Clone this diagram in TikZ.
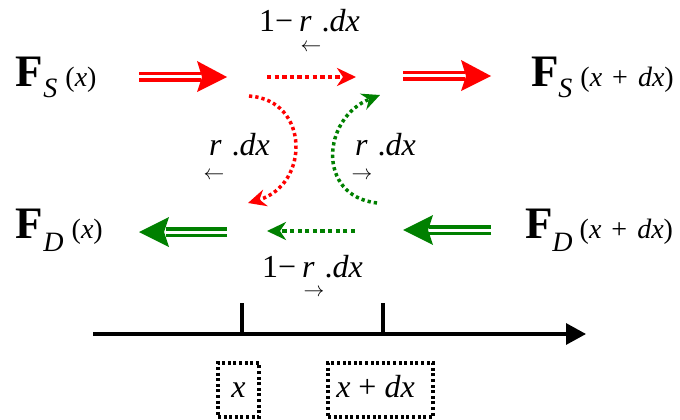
\documentclass[tikz,border=0pt]{standalone}
\usepackage{fontspec}
\setmainfont{Liberation Serif}
\usetikzlibrary{arrows.meta}
\definecolor{fred}{RGB}{255,0,0}
\definecolor{fgreen}{RGB}{0,128,0}
\newcommand{\BigF}{{\fontsize{45}{45}\selectfont\bfseries F}}
\newcommand{\SubT}[2]{\raisebox{-#1}{\fontsize{28}{28}\selectfont\itshape #2}}
\newcommand{\ArgT}[1]{{\fontsize{28}{28}\selectfont #1}}
\newcommand{\LabT}{\fontsize{32}{32}\selectfont}
\newcommand{\SmA}{\fontsize{21}{21}\selectfont}
\begin{document}
\begin{tikzpicture}[x=1pt,y=-1pt,
  lbl/.style={inner sep=0pt, outer sep=0pt, anchor=base west},
  sma/.style={inner sep=0pt, outer sep=0pt, anchor=center, font=\SmA},
  dshaft/.style={draw=#1, double=white, double distance=3pt, line width=3.5pt},
  dotarr/.style={draw=#1, line width=3.8pt, dash pattern=on 4.3pt off 3.3pt,
     -{Stealth[length=19pt,width=18pt,inset=6pt]}},
  curvarr/.style={draw=#1, line width=3.5pt, dash pattern=on 3.3pt off 3pt,
     -{Stealth[length=18pt,width=17pt,inset=6pt]}},
  dbox/.style={draw=black, line width=3.4pt, dash pattern=on 3pt off 2.6pt,
     inner sep=0pt, text height=15pt, text depth=0pt, font=\LabT},
  axisline/.style={draw=black, line width=3.2pt}
]
\useasboundingbox (0,0) rectangle (680,420);

% flux labels
\node[lbl] (FSx) at (16,87) {\BigF\SubT{10pt}{S}\hspace{8pt}\ArgT{(\textit{x})}};
\node[lbl] (FSxd) at (531,87) {\BigF\SubT{10pt}{S}\hspace{8pt}\ArgT{(\textit{x}\hspace{10pt}+\hspace{10pt}\textit{dx})}};
\node[lbl] (FDx) at (16,238) {\BigF\SubT{13pt}{D}\hspace{8pt}\ArgT{(\textit{x})}};
\node[lbl] (FDxd) at (525,238) {\BigF\SubT{13pt}{D}\hspace{7pt}\ArgT{(\textit{x}\hspace{10pt}+\hspace{10pt}\textit{dx})}};

% red double arrows
\coordinate (r1a) at (139,77); \coordinate (r1b) at (201,77); \coordinate (r1t) at (227,77);
\draw[dshaft=fred] (r1a) -- (r1b);
\fill[fred] (r1t) -- ++(-30,-16) -- ++(5,16) -- ++(-5,15) -- cycle;
\coordinate (r2a) at (403,76); \coordinate (r2b) at (465,76); \coordinate (r2t) at (491,76);
\draw[dshaft=fred] (r2a) -- (r2b);
\fill[fred] (r2t) -- ++(-30,-16) -- ++(5,16) -- ++(-5,15) -- cycle;

% green double arrows
\coordinate (g1a) at (227,232); \coordinate (g1b) at (166,232); \coordinate (g1t) at (139,232);
\draw[dshaft=fgreen] (g1a) -- (g1b);
\fill[fgreen] (g1t) -- ++(30,-15) -- ++(-5,15) -- ++(5,15) -- cycle;
\coordinate (g2a) at (491,230); \coordinate (g2b) at (429,230); \coordinate (g2t) at (403,230);
\draw[dshaft=fgreen] (g2a) -- (g2b);
\fill[fgreen] (g2t) -- ++(30,-15) -- ++(-5,15) -- ++(5,15) -- cycle;

% dotted arrows
\coordinate (rd1) at (267,77); \coordinate (rd2) at (356,77);
\draw[dotarr=fred] (rd1) -- (rd2);
\coordinate (gd1) at (355,231); \coordinate (gd2) at (267,231);
\draw[dotarr=fgreen] (gd1) -- (gd2);
\coordinate (rc1) at (249,96); \coordinate (rc2) at (248,203);
\draw[curvarr=fred] (rc1) .. controls (310,100) and (310,185) .. (rc2);
\coordinate (gc1) at (377,203); \coordinate (gc2) at (380,95);
\draw[curvarr=fgreen] (gc1) .. controls (316,196) and (322,118) .. (gc2);

% labels
\node[lbl, font=\LabT] (ltop) at (259,32) {1−\hspace{6pt}\textit{r}\hspace{10pt}.\textit{dx}};
\node[sma] (ltopa) at (311,48) {$\leftarrow$};
\node[lbl, font=\LabT] (lleft) at (209,155) {\textit{r}\hspace{10pt}.\textit{dx}};
\node[sma] (llefta) at (214,176) {$\leftarrow$};
\node[lbl, font=\LabT] (lright) at (355,155) {\textit{r}\hspace{10pt}.\textit{dx}};
\node[sma] (lrighta) at (362,176) {$\rightarrow$};
\node[lbl, font=\LabT] (lbot) at (262,277) {1−\hspace{6pt}\textit{r}\hspace{10pt}.\textit{dx}};
\node[sma] (lbota) at (314,293) {$\rightarrow$};

% axis
\coordinate (ax0) at (93,334); \coordinate (ax1) at (586,334);
\draw[axisline, -{Triangle[length=20pt,width=21pt]}] (ax0) -- (ax1);
\coordinate (t1a) at (242,303); \coordinate (t1b) at (242,334);
\coordinate (t2a) at (383,303); \coordinate (t2b) at (383,334);
\draw[axisline] (t1a) -- (t1b);
\draw[axisline] (t2a) -- (t2b);

% boxes
\node[dbox, minimum width=41pt, minimum height=54pt] (bx1) at (238.5,390) {\textit{x}};
\node[dbox, minimum width=105pt, minimum height=54pt] (bx2) at (380.5,390)
   {\textit{x}\hspace{8pt}+\hspace{8pt}\textit{dx}\hspace*{10pt}};
\end{tikzpicture}
\end{document}
